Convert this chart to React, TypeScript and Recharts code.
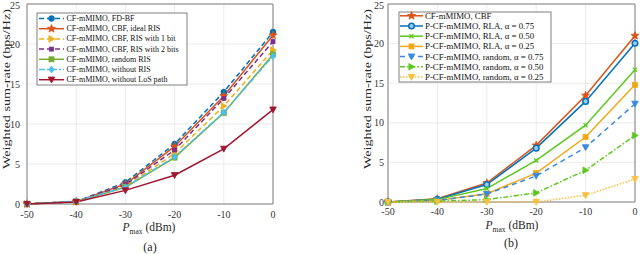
import React from 'react';
import { LineChart, Line, XAxis, YAxis, CartesianGrid, ReferenceArea } from 'recharts';

// ---------- data ----------
const pmax = [-50, -40, -30, -20, -10, 0];
const xTicks = [-50, -40, -30, -20, -10, 0];
const yTicks = [0, 5, 10, 15, 20, 25];

// panel (a)
const fdbf = [0, 0.3, 2.7, 7.5, 14.0, 21.5];
const cbfIdeal = [0, 0.3, 2.5, 7.2, 13.5, 21.1];
const ris1bit = [0, 0.3, 2.2, 6.3, 12.25, 19.25];
const ris2bit = [0, 0.3, 2.4, 6.75, 13.2, 20.3];
const randomRis = [0, 0.3, 2.1, 5.8, 11.4, 18.7];
const withoutRis = [0, 0.35, 2.1, 5.9, 11.45, 18.5];
const withoutLos = [0, 0.25, 1.7, 3.6, 6.9, 11.8];

// panel (b)
const cbf = [0, 0.4, 2.4, 7.15, 13.45, 21.0];
const rla075 = [0, 0.35, 2.2, 6.8, 12.7, 20.05];
const rla050 = [0, 0.3, 1.7, 5.25, 9.7, 16.7];
const rla025 = [0, 0.2, 1.05, 3.65, 8.2, 14.8];
const rnd075 = [0, 0.2, 1.0, 3.3, 6.9, 12.4];
const rnd050 = [0, 0.1, 0.3, 1.15, 4.0, 8.4];
const rnd025 = [0, 0, 0, 0, 0.85, 2.9];

const labelsA = [
  'CF-mMIMO, FD-BF',
  'CF-mMIMO, CBF, ideal RIS',
  'CF-mMIMO, CBF, RIS with 1 bit',
  'CF-mMIMO, CBF, RIS with 2 bits',
  'CF-mMIMO, random RIS',
  'CF-mMIMO, without RIS',
  'CF-mMIMO, without LoS path',
];
const labelsB = [
  'CF-mMIMO, CBF',
  'P-CF-mMIMO, RLA, α = 0.75',
  'P-CF-mMIMO, RLA, α = 0.50',
  'P-CF-mMIMO, RLA, α = 0.25',
  'P-CF-mMIMO, random, α = 0.75',
  'P-CF-mMIMO, random, α = 0.50',
  'P-CF-mMIMO, random, α = 0.25',
];

type Shape = 'circle' | 'star' | 'triRight' | 'triDown' | 'square' | 'diamond' | 'x' | 'ring';
interface Series { key: string; values: number[]; label: string; color: string; dash?: string; shape: Shape; size: number; }

const seriesA: Series[] = [
  { key: 'a0', values: fdbf, label: labelsA[0], color: '#0072BD', dash: '5 3', shape: 'circle', size: 2.8 },
  { key: 'a1', values: cbfIdeal, label: labelsA[1], color: '#D95319', shape: 'star', size: 4.2 },
  { key: 'a2', values: ris1bit, label: labelsA[2], color: '#EDB120', dash: '5 3', shape: 'triRight', size: 3.3 },
  { key: 'a3', values: ris2bit, label: labelsA[3], color: '#7E2F8E', dash: '5 3', shape: 'square', size: 2 },
  { key: 'a4', values: randomRis, label: labelsA[4], color: '#77AC30', shape: 'square', size: 2.5 },
  { key: 'a5', values: withoutRis, label: labelsA[5], color: '#4DBEEE', dash: '6 2 2 2', shape: 'diamond', size: 3.4 },
  { key: 'a6', values: withoutLos, label: labelsA[6], color: '#A2142F', shape: 'triDown', size: 3.3 },
];
const seriesB: Series[] = [
  { key: 'b0', values: cbf, label: labelsB[0], color: '#D95319', shape: 'star', size: 4.2 },
  { key: 'b1', values: rla075, label: labelsB[1], color: '#0072BD', shape: 'ring', size: 2.8 },
  { key: 'b2', values: rla050, label: labelsB[2], color: '#5CC81E', shape: 'x', size: 2 },
  { key: 'b3', values: rla025, label: labelsB[3], color: '#F0A818', shape: 'square', size: 2.5 },
  { key: 'b4', values: rnd075, label: labelsB[4], color: '#3A88E0', dash: '5 4', shape: 'triDown', size: 3.3 },
  { key: 'b5', values: rnd050, label: labelsB[5], color: '#5CC81E', dash: '5 2 1.5 2', shape: 'triRight', size: 3.3 },
  { key: 'b6', values: rnd025, label: labelsB[6], color: '#F8C040', dash: '1.5 1.5', shape: 'triDown', size: 3.3 },
];

const FONT = '"Liberation Serif", "Times New Roman", serif';

function starPoints(cx: number, cy: number, R: number) {
  const pts: string[] = [];
  for (let i = 0; i < 10; i++) {
    const r = i % 2 === 0 ? R : R * 0.42;
    const a = -Math.PI / 2 + (i * Math.PI) / 5;
    pts.push(`${cx + r * Math.cos(a)},${cy + r * Math.sin(a)}`);
  }
  return pts.join(' ');
}

function Marker({ cx, cy, shape, color, s }: { cx: number; cy: number; shape: Shape; color: string; s: number }) {
  if (cx == null || cy == null) return null;
  switch (shape) {
    case 'circle':
      return <circle cx={cx} cy={cy} r={s} fill={color} stroke={color} strokeWidth={1} />;
    case 'ring':
      return <circle cx={cx} cy={cy} r={s} fill="#9cc8ea" stroke={color} strokeWidth={1.5} />;
    case 'star':
      return <polygon points={starPoints(cx, cy, s)} fill={color} stroke={color} strokeWidth={0.8} />;
    case 'triRight':
      return <polygon points={`${cx + s},${cy} ${cx - s * 0.8},${cy - s} ${cx - s * 0.8},${cy + s}`} fill={color} stroke={color} strokeWidth={0.8} />;
    case 'triDown':
      return <polygon points={`${cx - s},${cy - s * 0.8} ${cx + s},${cy - s * 0.8} ${cx},${cy + s}`} fill={color} stroke={color} strokeWidth={0.8} />;
    case 'square':
      return <rect x={cx - s} y={cy - s} width={2 * s} height={2 * s} fill={color} stroke={color} strokeWidth={0.8} />;
    case 'diamond':
      return <polygon points={`${cx},${cy - s} ${cx + s * 0.8},${cy} ${cx},${cy + s} ${cx - s * 0.8},${cy}`} fill={color} stroke={color} strokeWidth={0.8} />;
    case 'x':
      return (
        <g stroke={color} strokeWidth={1.3}>
          <line x1={cx - s} y1={cy - s} x2={cx + s} y2={cy + s} />
          <line x1={cx - s} y1={cy + s} x2={cx + s} y2={cy - s} />
        </g>
      );
  }
  return null;
}

interface PanelProps {
  series: Series[];
  left: number;
  plotLeft: number;
  plotRight: number;
  plotBottom: number;
  yTickMargin: number;
  xTickMargin: number;
  yLabel: { x: number; y: number };
  xLabel: { x: number; y: number };
  caption: { text: string; x: number; y: number };
  legend: { x: number; y: number; w: number; h: number; lineX1: number; lineX2: number; textX: number; y0: number; dy: number; font: number };
}

function Panel(p: PanelProps) {
  const data = pmax.map((x, i) => {
    const row: Record<string, number> = { p: x };
    p.series.forEach((s) => (row[s.key] = s.values[i]));
    return row;
  });
  const lg = p.legend;
  return (
    <div style={{ position: 'absolute', left: p.left, top: 0, width: 320, height: 254 }}>
      <LineChart
        width={320}
        height={254}
        data={data}
        margin={{ top: 4, left: 0, right: 320 - p.plotRight, bottom: 0 }}
        style={{ fontFamily: FONT }}
      >
        <CartesianGrid stroke="#e6e6e6" strokeWidth={0.8} />
        <XAxis
          dataKey="p"
          type="number"
          domain={[-50, 0]}
          ticks={xTicks}
          height={254 - p.plotBottom}
          axisLine={false}
          tickLine={false}
          tickSize={0}
          tickMargin={p.xTickMargin}
          tick={{ fill: '#333', fontSize: 10, fontFamily: FONT }}
          label={{
            content: () => (
              <g fontFamily={FONT} fill="#262626">
                <text x={p.xLabel.x} y={p.xLabel.y} textAnchor="middle" fontSize={11.5}>
                  <tspan fontStyle="italic">P</tspan>
                  <tspan fontSize={7.5} dy={2.5}>max</tspan>
                  <tspan dy={-2.5}> (dBm)</tspan>
                </text>
                <text x={p.caption.x} y={p.caption.y} textAnchor="middle" fontSize={12}>
                  {p.caption.text}
                </text>
              </g>
            ),
          }}
        />
        <YAxis
          type="number"
          domain={[0, 25]}
          ticks={yTicks}
          width={p.plotLeft}
          axisLine={false}
          tickLine={false}
          tickSize={0}
          tickMargin={p.yTickMargin}
          tick={{ fill: '#333', fontSize: 10, fontFamily: FONT }}
          label={{
            content: () => (
              <text
                transform={`translate(${p.yLabel.x},${p.yLabel.y}) rotate(-90)`}
                textAnchor="middle"
                dominantBaseline="central"
                fontSize={11}
                fontFamily={FONT}
                fill="#262626"
                textLength={160}
                lengthAdjust="spacingAndGlyphs"
              >
                Weighted sum-rate (bps/Hz)
              </text>
            ),
          }}
        />
        <ReferenceArea x1={-50} x2={0} y1={0} y2={25} fill="none" stroke="#808080" strokeWidth={1} />
        {p.series.map((s) => (
          <Line
            key={s.key}
            dataKey={s.key}
            stroke={s.color}
            strokeWidth={1.5}
            strokeDasharray={s.dash}
            isAnimationActive={false}
            activeDot={false}
            dot={(d: any) => <Marker key={`${s.key}-${d.index}`} cx={d.cx} cy={d.cy} shape={s.shape} color={s.color} s={s.size} />}
          />
        ))}
      </LineChart>
      <svg
        width={320}
        height={254}
        style={{ position: 'absolute', left: 0, top: 0, pointerEvents: 'none' }}
      >
        <rect x={lg.x} y={lg.y} width={lg.w} height={lg.h} fill="#fff" stroke="#808080" strokeWidth={1} />
        {p.series.map((s, i) => {
          const y = lg.y0 + i * lg.dy;
          const mid = (lg.lineX1 + lg.lineX2) / 2;
          return (
            <g key={s.key}>
              <line x1={lg.lineX1} y1={y} x2={lg.lineX2} y2={y} stroke={s.color} strokeWidth={1.5} strokeDasharray={s.dash} />
              <Marker cx={mid} cy={y} shape={s.shape} color={s.color} s={s.size} />
              <text x={lg.textX} y={y} dominantBaseline="central" fontSize={lg.font} fontFamily={FONT} fill="#111">
                {s.label}
              </text>
            </g>
          );
        })}
      </svg>
    </div>
  );
}

export default function App() {
  return (
    <div style={{ position: 'absolute', left: 0, top: 0, width: 640, height: 254, background: '#fff' }}>
      <Panel
        series={seriesA}
        left={0}
        plotLeft={27}
        plotRight={273}
        plotBottom={204}
        yTickMargin={7}
        xTickMargin={7}
        yLabel={{ x: 6, y: 89 }}
        xLabel={{ x: 149, y: 231 }}
        caption={{ text: '(a)', x: 150, y: 251 }}
        legend={{ x: 37, y: 13, w: 150, h: 72, lineX1: 39, lineX2: 64, textX: 66.5, y0: 18.5, dy: 10.2, font: 8 }}
      />
      <Panel
        series={seriesB}
        left={320}
        plotLeft={68}
        plotRight={315}
        plotBottom={202}
        yTickMargin={4}
        xTickMargin={6}
        yLabel={{ x: 47, y: 89 }}
        xLabel={{ x: 192, y: 229 }}
        caption={{ text: '(b)', x: 191, y: 247 }}
        legend={{ x: 79, y: 12, w: 152, h: 70, lineX1: 80, lineX2: 103, textX: 105, y0: 15.8, dy: 10.2, font: 8.8 }}
      />
    </div>
  );
}
